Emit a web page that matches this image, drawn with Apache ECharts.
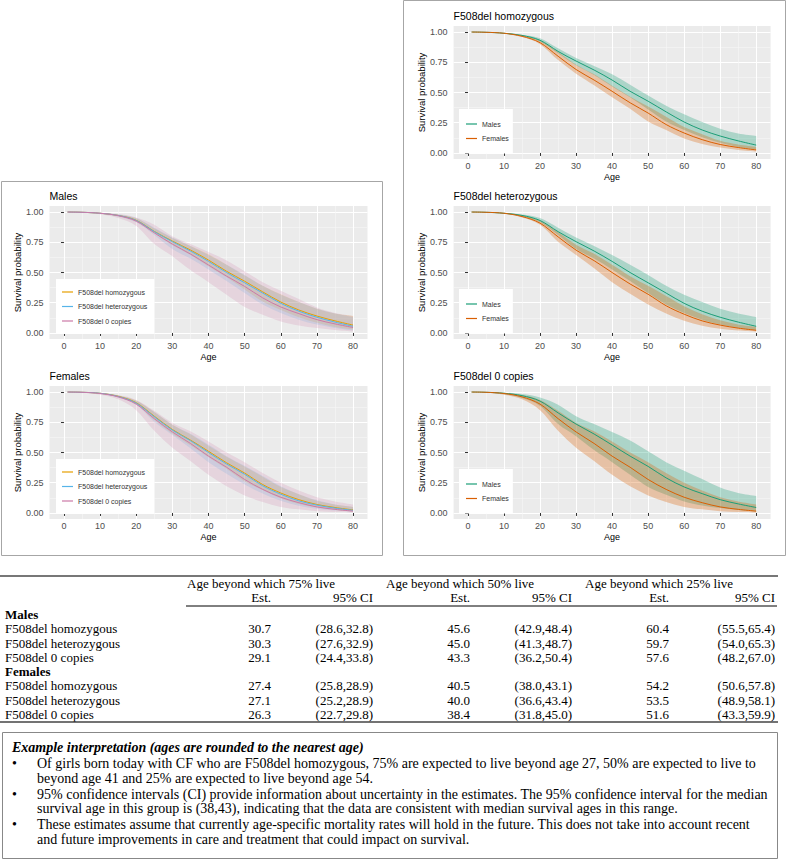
<!DOCTYPE html>
<html><head><meta charset="utf-8">
<script src="https://cdn.jsdelivr.net/npm/echarts@6/dist/echarts.min.js"></script>
<style>html,body{margin:0;padding:0;background:#fff;}#c{width:787px;height:866px;}</style>
</head><body><div id="c"></div>
<script>
// ---------- data ----------
const ages = [1,5,10,15,20,25,30,35,40,45,50,55,60,65,70,75,80];
// Males
const mHomEst = [1.000,0.998,0.990,0.972,0.932,0.840,0.760,0.686,0.603,0.510,0.428,0.340,0.256,0.190,0.140,0.100,0.065];
const mHomLo  = [1.000,0.998,0.988,0.965,0.920,0.825,0.725,0.645,0.550,0.460,0.360,0.260,0.190,0.130,0.085,0.050,0.030];
const mHomHi  = [1.000,0.999,0.993,0.978,0.948,0.865,0.785,0.720,0.650,0.565,0.475,0.390,0.320,0.255,0.200,0.160,0.140];
const mHetEst = [1.000,0.998,0.990,0.972,0.930,0.838,0.755,0.678,0.592,0.500,0.415,0.330,0.245,0.180,0.130,0.090,0.055];
const mHetLo  = [1.000,0.997,0.987,0.962,0.915,0.810,0.695,0.615,0.525,0.430,0.330,0.235,0.165,0.110,0.070,0.042,0.022];
const mHetHi  = [1.000,0.999,0.993,0.980,0.950,0.870,0.790,0.720,0.645,0.565,0.480,0.390,0.315,0.255,0.200,0.160,0.130];
const m0Est   = [1.000,0.998,0.990,0.970,0.925,0.828,0.735,0.653,0.562,0.470,0.385,0.290,0.215,0.160,0.110,0.075,0.045];
const m0Lo    = [1.000,0.996,0.982,0.950,0.885,0.735,0.635,0.520,0.420,0.315,0.215,0.150,0.095,0.062,0.040,0.025,0.012];
const m0Hi    = [1.000,0.999,0.995,0.983,0.955,0.895,0.800,0.735,0.670,0.600,0.510,0.420,0.350,0.280,0.210,0.165,0.140];
// Females
const fHomEst = [1.000,0.998,0.990,0.965,0.912,0.800,0.690,0.603,0.510,0.415,0.330,0.235,0.165,0.110,0.070,0.045,0.025];
const fHomLo  = [1.000,0.997,0.987,0.958,0.900,0.768,0.655,0.560,0.460,0.365,0.260,0.190,0.120,0.075,0.045,0.025,0.012];
const fHomHi  = [1.000,0.999,0.992,0.972,0.930,0.835,0.730,0.650,0.555,0.465,0.385,0.300,0.215,0.155,0.100,0.070,0.050];
const fHetEst = [1.000,0.998,0.990,0.963,0.908,0.795,0.685,0.598,0.500,0.405,0.320,0.225,0.155,0.100,0.065,0.040,0.022];
const fHetLo  = [1.000,0.997,0.986,0.955,0.895,0.755,0.645,0.535,0.420,0.325,0.235,0.160,0.100,0.060,0.035,0.020,0.010];
const fHetHi  = [1.000,0.999,0.992,0.972,0.928,0.835,0.730,0.655,0.565,0.470,0.390,0.305,0.220,0.155,0.105,0.070,0.050];
const f0Est   = [1.000,0.998,0.988,0.960,0.900,0.780,0.670,0.575,0.470,0.378,0.277,0.195,0.130,0.085,0.050,0.030,0.015];
const f0Lo    = [1.000,0.995,0.978,0.940,0.850,0.680,0.540,0.430,0.315,0.220,0.145,0.090,0.050,0.030,0.015,0.008,0.004];
const f0Hi    = [1.000,0.999,0.993,0.975,0.935,0.845,0.745,0.675,0.590,0.500,0.420,0.330,0.250,0.185,0.130,0.095,0.070];

const genotypeNames = ['F508del homozygous','F508del heterozygous','F508del 0 copies'];
const sexNames = ['Males','Females'];
const panelTitles = ['Males','Females','F508del homozygous','F508del heterozygous','F508del 0 copies'];
const xTicks = [0,10,20,30,40,50,60,70,80];
const xMinor = [5,15,25,35,45,55,65,75];
const yTicks = [0,0.25,0.5,0.75,1];
const yMinor = [0.125,0.375,0.625,0.875];

// table
const tableHeaders = ['Age beyond which 75% live','Age beyond which 50% live','Age beyond which 25% live'];
const subHeaders = ['Est.','95% CI'];
const groupLabels = ['Males','Females'];
const rowLabels = ['F508del homozygous','F508del heterozygous','F508del 0 copies'];
const maleEst = [[30.7,45.6,60.4],[30.3,45.0,59.7],[29.1,43.3,57.6]];
const maleCI  = [[[28.6,32.8],[42.9,48.4],[55.5,65.4]],[[27.6,32.9],[41.3,48.7],[54.0,65.3]],[[24.4,33.8],[36.2,50.4],[48.2,67.0]]];
const femaleEst = [[27.4,40.5,54.2],[27.1,40.0,53.5],[26.3,38.4,51.6]];
const femaleCI  = [[[25.8,28.9],[38.0,43.1],[50.6,57.8]],[[25.2,28.9],[36.6,43.4],[48.9,58.1]],[[22.7,29.8],[31.8,45.0],[43.3,59.9]]];

const noteTitle = 'Example interpretation (ages are rounded to the nearest age)';
const noteBullets = [
 ['Of girls born today with CF who are F508del homozygous, 75% are expected to live beyond age 27, 50% are expected to live to',
  'beyond age 41 and 25% are expected to live beyond age 54.'],
 ['95% confidence intervals (CI) provide information about uncertainty in the estimates. The 95% confidence interval for the median',
  'survival age in this group is (38,43), indicating that the data are consistent with median survival ages in this range.'],
 ['These estimates assume that currently age-specific mortality rates will hold in the future. This does not take into account recent',
  'and future improvements in care and treatment that could impact on survival.']
];

// ---------- layout ----------
const SANS = '"Liberation Sans", Arial, sans-serif';
const SERIF = '"Liberation Serif", "Times New Roman", serif';
const maleSets = [[mHomEst,mHomLo,mHomHi],[mHetEst,mHetLo,mHetHi],[m0Est,m0Lo,m0Hi]];
const femaleSets = [[fHomEst,fHomLo,fHomHi],[fHetEst,fHetLo,fHetHi],[f0Est,f0Lo,f0Hi]];
const genoColors = ['#E69F00','#56B4E9','#CC79A7'];
const sexColors = ['#1B9E77','#D95F02'];

const PW_L = 318, PW_R = 317, PH = 133;
const panels = [
 {x:49.5, y:206, w:PW_L, names:genotypeNames, sets:maleSets, colors:genoColors, op:0.2, leg:{left:56, top:279, pad:[8,7,8,6]}},
 {x:49.5, y:386, w:PW_L, names:genotypeNames, sets:femaleSets, colors:genoColors, op:0.2, leg:{left:56, top:459, pad:[8,7,8,6]}},
 {x:453.6, y:26, w:PW_R, names:sexNames, sets:[maleSets[0],femaleSets[0]], colors:sexColors, op:0.3, leg:{left:459, top:109, pad:[10,4,10,7]}},
 {x:453.6, y:206, w:PW_R, names:sexNames, sets:[maleSets[1],femaleSets[1]], colors:sexColors, op:0.3, leg:{left:459, top:289, pad:[10,4,10,7]}},
 {x:453.6, y:386, w:PW_R, names:sexNames, sets:[maleSets[2],femaleSets[2]], colors:sexColors, op:0.3, leg:{left:459, top:469, pad:[10,4,10,7]}}
];

// smooth path through pixel points (Catmull-Rom -> cubic Bezier), rendering only
function curveTo(pts){
  let d='';
  for(let i=0;i<pts.length-1;i++){
    const p0=pts[i-1]||pts[i], p1=pts[i], p2=pts[i+1], p3=pts[i+2]||pts[i+1];
    const c1=[p1[0]+(p2[0]-p0[0])/6, p1[1]+(p2[1]-p0[1])/6];
    const c2=[p2[0]-(p3[0]-p1[0])/6, p2[1]-(p3[1]-p1[1])/6];
    d+=' C'+c1[0].toFixed(2)+','+c1[1].toFixed(2)+' '+c2[0].toFixed(2)+','+c2[1].toFixed(2)+' '+p2[0].toFixed(2)+','+p2[1].toFixed(2);
  }
  return d;
}
function hexA(hex,a){const n=parseInt(hex.slice(1),16);return 'rgba('+((n>>16)&255)+','+((n>>8)&255)+','+(n&255)+','+a+')';}

const grid=[], xAxis=[], yAxis=[], series=[], legend=[], title=[];
const lineSeries=[];
panels.forEach((p, gi) => {
  grid.push({left:p.x, top:p.y, width:p.w, height:PH, show:true, backgroundColor:'#EBEBEB', borderWidth:0});
  title.push({text:panelTitles[gi], left:p.x, top:p.y-16, padding:0, textStyle:{fontSize:10.5, fontWeight:'normal', color:'#000', fontFamily:SANS}});
  xAxis.push({gridIndex:gi, type:'value', min:-4, max:84, name:'Age', nameLocation:'middle', nameGap:13.5,
    nameTextStyle:{fontSize:9, color:'#000', fontFamily:SANS, verticalAlign:'top'},
    axisLine:{show:false}, axisTick:{show:true, length:3, lineStyle:{color:'#333'}, customValues:xTicks},
    axisLabel:{customValues:xTicks, fontSize:9, color:'#4D4D4D', margin:2, fontFamily:SANS},
    splitLine:{show:true, lineStyle:{color:'#fff', width:1.1}}});
  xAxis.push({gridIndex:gi, type:'value', min:-4, max:84, position:'bottom',
    axisLine:{show:false}, axisTick:{show:false, customValues:xMinor}, axisLabel:{show:false, customValues:xMinor},
    splitLine:{show:true, lineStyle:{color:'#F7F7F7', width:0.6}}});
  yAxis.push({gridIndex:gi, type:'value', min:-0.05, max:1.05, name:'Survival probability', nameLocation:'middle', nameGap:26, nameRotate:90,
    nameTextStyle:{fontSize:9.5, color:'#000', fontFamily:SANS},
    axisLine:{show:false}, axisTick:{show:true, length:3, lineStyle:{color:'#333'}, customValues:yTicks},
    axisLabel:{customValues:yTicks, formatter:v=>v.toFixed(2), fontSize:9, color:'#4D4D4D', margin:6, fontFamily:SANS},
    splitLine:{show:true, lineStyle:{color:'#fff', width:1.1}}});
  yAxis.push({gridIndex:gi, type:'value', min:-0.05, max:1.05, position:'left',
    axisLine:{show:false}, axisTick:{show:false, customValues:yMinor}, axisLabel:{show:false, customValues:yMinor},
    splitLine:{show:true, lineStyle:{color:'#F7F7F7', width:0.6}}});
  p.sets.forEach((s, k) => {
    const [est, lo, hi] = s;
    const color = p.colors[k];
    const fill = hexA(color, p.op);
    series.push({type:'custom', name:'ribbon '+p.names[k]+' '+gi, xAxisIndex:2*gi, yAxisIndex:2*gi, silent:true, animation:false,
      encode:{x:0, y:[1,2]}, data:ages.map((a,i)=>[a, lo[i], hi[i]]),
      renderItem:(params, api)=>{
        if (params.dataIndex !== 0) return null;
        const up=[], dn=[];
        for (let i=0;i<ages.length;i++){
          up.push(api.coord([api.value(0,i), api.value(2,i)]));
          dn.push(api.coord([api.value(0,i), api.value(1,i)]));
        }
        dn.reverse();
        const d='M'+up[0][0]+','+up[0][1]+curveTo(up)+' L'+dn[0][0]+','+dn[0][1]+curveTo(dn)+' Z';
        return {type:'path', shape:{pathData:d}, style:{fill:fill, stroke:null}};
      }});
    lineSeries.push({type:'custom', name:p.names[k], xAxisIndex:2*gi, yAxisIndex:2*gi, silent:true, animation:false,
      itemStyle:{color:color}, encode:{x:0, y:1}, data:ages.map((a,i)=>[a, est[i]]),
      renderItem:(params, api)=>{
        if (params.dataIndex !== 0) return null;
        const pts=[];
        for (let i=0;i<ages.length;i++) pts.push(api.coord([api.value(0,i), api.value(1,i)]));
        const d='M'+pts[0][0]+','+pts[0][1]+curveTo(pts);
        return {type:'path', shape:{pathData:d}, style:{fill:null, stroke:color, lineWidth:1}};
      }});
  });
  legend.push({left:p.leg.left, top:p.leg.top, orient:'vertical', data:p.names, icon:'rect', itemWidth:11, itemHeight:1.2, itemGap:4.5,
    padding:p.leg.pad, backgroundColor:'#fff', selectedMode:false,
    textStyle:{fontSize:7, color:'#333', lineHeight:10, fontFamily:SANS}});
});

// ---------- graphics: boxes, table, note ----------
const G = [];
function txt(t, x, y, opts) {
  opts = opts || {};
  G.push({type:'text', x:x, y:y, silent:true, style:{text:t, font:(opts.font||('13px '+SERIF)), fill:'#000',
    align:opts.align||'left', textAlign:opts.align||'left', verticalAlign:'middle', textVerticalAlign:'middle'}});
}
function line(x1,y1,x2,y2,w,c){ G.push({type:'line', silent:true, shape:{x1,y1,x2,y2}, style:{stroke:c, lineWidth:w}}); }
function rect(x,y,w,h,c){ G.push({type:'rect', silent:true, shape:{x,y,width:w,height:h}, style:{fill:'none', stroke:c, lineWidth:1}}); }

rect(1.5,181.5,381,374,'#A6A6A6');
rect(403.5,0.5,382,555,'#A6A6A6');

const colStart = [187,386,585];
const estRight = [271,470,669];
const ciRight = [373,572,775];
line(0,576,778,576,2,'#777');
tableHeaders.forEach((h,i)=>txt(h, colStart[i], 583));
colStart.forEach((c,i)=>{ txt(subHeaders[0], estRight[i], 597, {align:'right'}); txt(subHeaders[1], ciRight[i], 597, {align:'right'}); });
line(186,606,777,606,1,'#000');
const blocks = [[maleEst,maleCI,614],[femaleEst,femaleCI,671]];
blocks.forEach((b,bi)=>{
  const [est, ci, y0] = b;
  txt(groupLabels[bi], 5, y0, {font:'bold 13px '+SERIF});
  rowLabels.forEach((r,ri)=>{
    const y = y0 + 14.5*(ri+1);
    txt(r, 5, y);
    for (let c=0;c<3;c++){
      txt(est[ri][c].toFixed(1), estRight[c], y, {align:'right'});
      txt('('+ci[ri][c][0].toFixed(1)+','+ci[ri][c][1].toFixed(1)+')', ciRight[c], y, {align:'right'});
    }
  });
});
line(0,722,778,722,1.5,'#444');

rect(2.5,732.5,775,126,'#888');
txt(noteTitle, 12, 747, {font:'italic bold 14px '+SERIF});
const lineY = [[763,778],[794,808],[824,839]];
noteBullets.forEach((b,bi)=>{
  txt('\u2022', 12, lineY[bi][0], {font:'14px '+SERIF});
  b.forEach((l,li)=>txt(l, 37, lineY[bi][li], {font:'14px '+SERIF}));
});

const chart = echarts.init(document.getElementById('c'), null, {renderer:'svg', width:787, height:866});
chart.setOption({
  animation:false,
  backgroundColor:'#fff',
  textStyle:{fontFamily:SANS},
  title, grid, xAxis, yAxis, legend,
  series: series.concat(lineSeries),
  graphic:{elements:G}
});
</script></body></html>
